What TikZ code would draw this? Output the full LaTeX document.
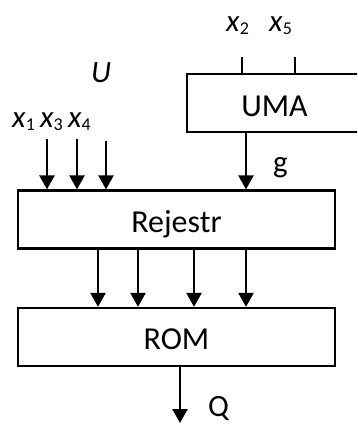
\documentclass[tikz,border=0pt]{standalone}
\usepackage{fontspec}
\setmainfont{Carlito}
\usetikzlibrary{arrows.meta,calc}
\newcommand\subs[1]{\raisebox{-3pt}{\fontsize{18}{20}\selectfont #1}}
\begin{document}
\begin{tikzpicture}[x=1pt,y=-1pt,
  box/.style={draw,line width=2.3pt,rectangle,inner sep=0pt,minimum height=58pt},
  boxtext/.style={anchor=base,inner sep=0pt,font=\fontsize{32}{38}\selectfont},
  lbl/.style={anchor=base west,inner sep=0pt,font=\fontsize{31}{36}\selectfont},
  arr/.style={line width=2.5pt,-{Triangle[width=15pt,length=14pt]}},
  wire/.style={line width=2.3pt}]
\path[use as bounding box] (0,0) rectangle (357,425);
\clip (0,0) rectangle (357,425);
% boxes
\node[box,minimum width=175pt] (uma) at (274.5,103) {};
\node[box,minimum width=317pt] (rej) at (176.5,219.5) {};
\node[box,minimum width=317pt] (rom) at (176.5,337) {};
\node[boxtext] (umat) at ([yshift=-14pt]uma.center) {UMA};
\node[boxtext] (rejt) at ([yshift=-13pt]rej.center) {Rejestr};
\node[boxtext] (romt) at ([yshift=-12.5pt]rom.center) {ROM};
% labels
\node[lbl] (xa) at (12,127) {\textit{x}\subs{1}\,\textit{x}\subs{3}\,\textit{x}\subs{4}};
\node[lbl] (x2) at (226,32) {\textit{x}\subs{2}};
\node[lbl] (x5) at (269,32) {\textit{x}\subs{5}};
\node[lbl] (u) at (91,83) {\textit{U}};
\node[lbl] (g) at (273,172) {g};
\node[lbl] (q) at (208,416) {Q};
% coordinates
\coordinate (i1) at (47,139);
\coordinate (i3) at (77,139);
\coordinate (i4) at (106,141);
\coordinate (cg) at (246,0);
\coordinate (ca) at (98,0);
\coordinate (cb) at (138,0);
\coordinate (cc) at (194,0);
\coordinate (cd) at (246,0);
\coordinate (cq) at (180,423);
\coordinate (t2) at (242,57);
\coordinate (t5) at (295,57);
% connectors
\draw[wire] (t2) -- (t2 |- uma.north);
\draw[wire] (t5) -- (t5 |- uma.north);
\draw[arr] (i1) -- (i1 |- rej.north);
\draw[arr] (i3) -- (i3 |- rej.north);
\draw[arr] (i4) -- (i4 |- rej.north);
\draw[arr] (uma.south -| cg) -- (rej.north -| cg);
\foreach \c in {ca,cb,cc,cd}
  \draw[arr] (rej.south -| \c) -- (rom.north -| \c);
\draw[arr] (rom.south -| cq) -- (cq);
\end{tikzpicture}
\end{document}
